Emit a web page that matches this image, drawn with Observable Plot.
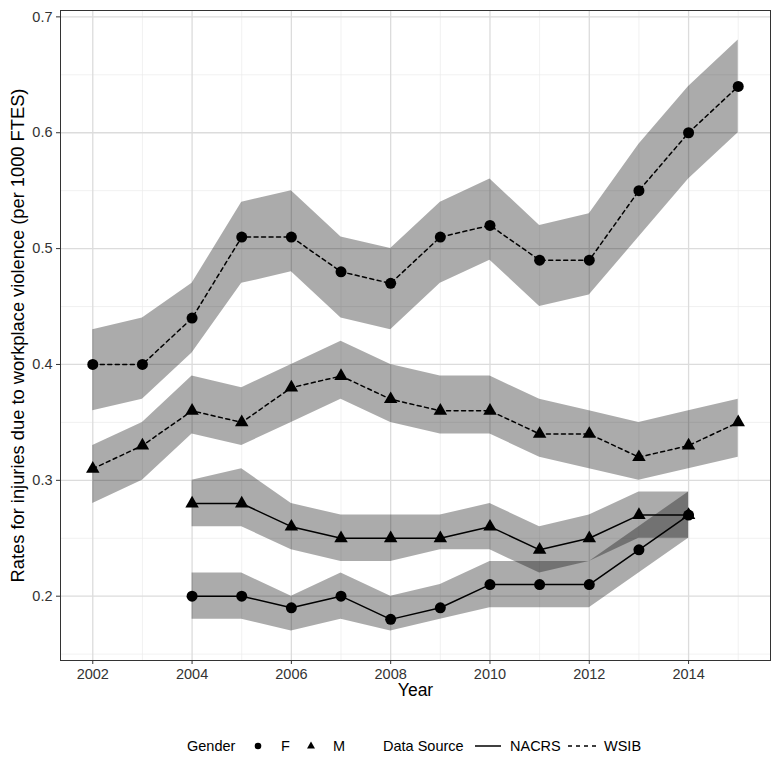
<!DOCTYPE html>
<html>
<head>
<meta charset="utf-8">
<script src="https://cdn.jsdelivr.net/npm/d3@7"></script>
<script src="https://cdn.jsdelivr.net/npm/@observablehq/plot@0.6"></script>
<style>
  html, body { margin: 0; padding: 0; background: #fff; }
  body { width: 780px; height: 780px; position: relative; font-family: "Liberation Sans", Arial, sans-serif; }
  #legend { position: absolute; left: 0; top: 736px; width: 780px; height: 20px; font-size: 14.5px; color: #000; }
  #legend > * { position: absolute; top: 0; line-height: 20px; white-space: nowrap; }
  #legend svg { top: 2px; }
</style>
</head>
<body>
<div id="chart"></div>
<div id="legend"></div>
<script>
// ---- data ----
const years = [2002, 2003, 2004, 2005, 2006, 2007, 2008, 2009, 2010, 2011, 2012, 2013, 2014, 2015];
const wsibF    = [0.40, 0.40, 0.44, 0.51, 0.51, 0.48, 0.47, 0.51, 0.52, 0.49, 0.49, 0.55, 0.60, 0.64];
const wsibFlo  = [0.36, 0.37, 0.41, 0.47, 0.48, 0.44, 0.43, 0.47, 0.49, 0.45, 0.46, 0.51, 0.56, 0.60];
const wsibFhi  = [0.43, 0.44, 0.47, 0.54, 0.55, 0.51, 0.50, 0.54, 0.56, 0.52, 0.53, 0.59, 0.64, 0.68];
const wsibM    = [0.31, 0.33, 0.36, 0.35, 0.38, 0.39, 0.37, 0.36, 0.36, 0.34, 0.34, 0.32, 0.33, 0.35];
const wsibMlo  = [0.28, 0.30, 0.34, 0.33, 0.35, 0.37, 0.35, 0.34, 0.34, 0.32, 0.31, 0.30, 0.31, 0.32];
const wsibMhi  = [0.33, 0.35, 0.39, 0.38, 0.40, 0.42, 0.40, 0.39, 0.39, 0.37, 0.36, 0.35, 0.36, 0.37];
const nacrsYears = [2004, 2005, 2006, 2007, 2008, 2009, 2010, 2011, 2012, 2013, 2014];
const nacrsF   = [0.20, 0.20, 0.19, 0.20, 0.18, 0.19, 0.21, 0.21, 0.21, 0.24, 0.27];
const nacrsFlo = [0.18, 0.18, 0.17, 0.18, 0.17, 0.18, 0.19, 0.19, 0.19, 0.22, 0.25];
const nacrsFhi = [0.22, 0.22, 0.20, 0.22, 0.20, 0.21, 0.23, 0.23, 0.23, 0.26, 0.29];
const nacrsM   = [0.28, 0.28, 0.26, 0.25, 0.25, 0.25, 0.26, 0.24, 0.25, 0.27, 0.27];
const nacrsMlo = [0.26, 0.26, 0.24, 0.23, 0.23, 0.24, 0.24, 0.22, 0.23, 0.25, 0.25];
const nacrsMhi = [0.30, 0.31, 0.28, 0.27, 0.27, 0.27, 0.28, 0.26, 0.27, 0.29, 0.29];

const xMajor = [2002, 2004, 2006, 2008, 2010, 2012, 2014];
const xMinor = [2003, 2005, 2007, 2009, 2011, 2013, 2015];
const yMajor = [0.2, 0.3, 0.4, 0.5, 0.6, 0.7];
const yMinor = [0.15, 0.25, 0.35, 0.45, 0.55, 0.65];

const yTitle = "Rates for injuries due to workplace violence (per 1000 FTES)";
const xTitle = "Year";
const genderKeys = ["F", "M"];
const sourceKeys = ["NACRS", "WSIB"];

function build(yrs, v, lo, hi, gender, source) {
  return yrs.map((y, i) => ({year: y, value: v[i], lo: lo[i], hi: hi[i], gender, source}));
}
const series = [
  build(years, wsibF, wsibFlo, wsibFhi, "F", "WSIB"),
  build(years, wsibM, wsibMlo, wsibMhi, "M", "WSIB"),
  build(nacrsYears, nacrsF, nacrsFlo, nacrsFhi, "F", "NACRS"),
  build(nacrsYears, nacrsM, nacrsMlo, nacrsMhi, "M", "NACRS")
];
const all = series.flat();

const ribbons = series.map(s => Plot.areaY(s, {x: "year", y1: "lo", y2: "hi", fill: "#000", fillOpacity: 0.33}));
const lines = series.map(s => Plot.line(s, {
  x: "year", y: "value", stroke: "#000", strokeWidth: 1.5,
  strokeDasharray: s[0].source === "WSIB" ? "4,3.5" : null
}));
const dotsF = Plot.dot(all.filter(d => d.gender === "F"), {x: "year", y: "value", r: 5.5, fill: "#000", symbol: "circle"});
const dotsM = Plot.dot(all.filter(d => d.gender === "M"), {x: "year", y: "value", r: 5, fill: "#000", symbol: "triangle"});

const chart = Plot.plot({
  width: 780,
  height: 715,
  marginLeft: 60,
  marginRight: 10,
  marginTop: 10,
  marginBottom: 55,
  style: {fontFamily: "'Liberation Sans', Arial, sans-serif", fontSize: "14.5px", background: "#fff"},
  x: {domain: [2001.35, 2015.65]},
  y: {domain: [0.1445, 0.7055]},
  marks: [
    Plot.gridX(xMinor, {stroke: "#ebebeb", strokeOpacity: 1, strokeWidth: 0.7}),
    Plot.gridY(yMinor, {stroke: "#ebebeb", strokeOpacity: 1, strokeWidth: 0.7}),
    Plot.gridX(xMajor, {stroke: "#dcdcdc", strokeOpacity: 1, strokeWidth: 1.3}),
    Plot.gridY(yMajor, {stroke: "#dcdcdc", strokeOpacity: 1, strokeWidth: 1.3}),
    ...ribbons,
    ...lines,
    dotsF,
    dotsM,
    Plot.frame({stroke: "#333", strokeWidth: 1}),
    Plot.axisX(xMajor, {tickSize: 4, tickPadding: 4, tickFormat: d => String(d), fontSize: 14.5, fill: "#333", stroke: "#333", label: null}),
    Plot.axisY(yMajor, {tickSize: 4, tickPadding: 4, tickFormat: d => d.toFixed(1), fontSize: 14.5, fill: "#333", stroke: "#333", label: null}),
    Plot.text([xTitle], {frameAnchor: "bottom", dy: 35, fontSize: 17.5, fill: "#000", textAnchor: "middle"}),
    Plot.text([yTitle], {frameAnchor: "left", rotate: -90, dx: -42, fontSize: 18.3, fill: "#000", textAnchor: "middle"})
  ]
});
document.getElementById("chart").appendChild(chart);

// ---- legend ----
const legend = document.getElementById("legend");
const ns = "http://www.w3.org/2000/svg";
function addText(t, x) {
  const s = document.createElement("span");
  s.textContent = t;
  s.style.left = x + "px";
  legend.appendChild(s);
}
function addSvg(x, w, inner) {
  const svg = document.createElementNS(ns, "svg");
  svg.setAttribute("width", w);
  svg.setAttribute("height", 16);
  svg.innerHTML = inner;
  svg.style.left = x + "px";
  legend.appendChild(svg);
}
addText("Gender", 187);
addSvg(251, 14, '<circle cx="7" cy="8" r="3.3" fill="#000"/>');
addText(genderKeys[0], 281);
addSvg(304, 14, '<path d="M7,3.5 L11,10.5 L3,10.5 Z" fill="#000"/>');
addText(genderKeys[1], 333);
addText("Data Source", 383);
addSvg(475, 26, '<line x1="0" y1="8" x2="26" y2="8" stroke="#000" stroke-width="1.5"/>');
addText(sourceKeys[0], 510);
addSvg(568, 28, '<line x1="0" y1="8" x2="28" y2="8" stroke="#000" stroke-width="1.5" stroke-dasharray="4,4"/>');
addText(sourceKeys[1], 604);
</script>
</body>
</html>
